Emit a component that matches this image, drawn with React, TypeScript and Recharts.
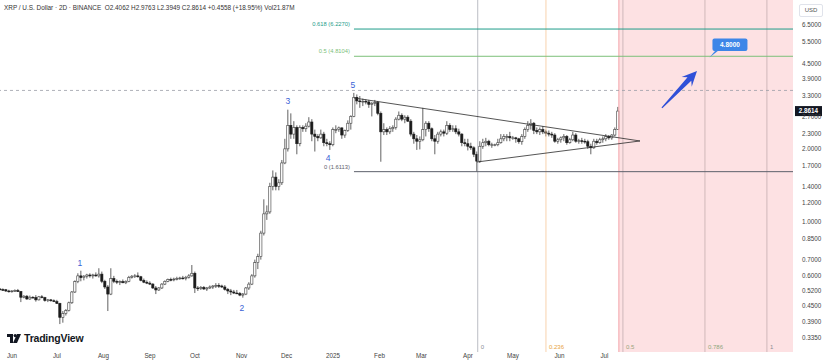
import { ComposedChart, Bar, XAxis, YAxis, ReferenceLine, ReferenceArea, ReferenceDot } from 'recharts';

// day 0 = 1 Jun 2024, one candle every 2 days
const firstDay = -8;
const candleStep = 2;

// [open, high, low, close]
const candles: number[][] = [
    // late May / Jun 2024
    [0.530, 0.535, 0.522, 0.527], [0.527, 0.533, 0.520, 0.526], [0.526, 0.530, 0.515, 0.520], [0.520, 0.526, 0.512, 0.518],
    [0.518, 0.524, 0.512, 0.520], [0.520, 0.528, 0.515, 0.522], [0.522, 0.530, 0.515, 0.517], [0.517, 0.520, 0.468, 0.490],
    [0.490, 0.500, 0.485, 0.495], [0.495, 0.500, 0.478, 0.482], [0.482, 0.498, 0.478, 0.490], [0.490, 0.495, 0.485, 0.488],
    [0.488, 0.500, 0.470, 0.478], [0.478, 0.496, 0.475, 0.492], [0.492, 0.500, 0.485, 0.488], [0.488, 0.492, 0.470, 0.475],
    [0.475, 0.482, 0.468, 0.478], [0.478, 0.482, 0.470, 0.474], [0.474, 0.480, 0.468, 0.470],
    // Jul
    [0.470, 0.478, 0.460, 0.462], [0.462, 0.465, 0.380, 0.405], [0.405, 0.430, 0.385, 0.420], [0.420, 0.438, 0.412, 0.432],
    [0.432, 0.470, 0.428, 0.465], [0.465, 0.520, 0.460, 0.515], [0.515, 0.575, 0.510, 0.568], [0.568, 0.615, 0.560, 0.600],
    [0.600, 0.630, 0.570, 0.590], [0.590, 0.605, 0.575, 0.598], [0.598, 0.612, 0.585, 0.605], [0.605, 0.615, 0.590, 0.600],
    [0.600, 0.612, 0.585, 0.605], [0.605, 0.620, 0.595, 0.600], [0.600, 0.645, 0.590, 0.610], [0.610, 0.625, 0.560, 0.570],
    // Aug
    [0.570, 0.578, 0.530, 0.540], [0.540, 0.550, 0.430, 0.505], [0.505, 0.645, 0.500, 0.585], [0.585, 0.600, 0.560, 0.570],
    [0.570, 0.580, 0.555, 0.565], [0.565, 0.575, 0.550, 0.568], [0.568, 0.580, 0.560, 0.562], [0.562, 0.575, 0.555, 0.570],
    [0.570, 0.600, 0.565, 0.592], [0.592, 0.605, 0.585, 0.598], [0.598, 0.610, 0.588, 0.600], [0.600, 0.620, 0.590, 0.595],
    [0.595, 0.600, 0.570, 0.575], [0.575, 0.585, 0.560, 0.565], [0.565, 0.575, 0.555, 0.560],
    // Sep
    [0.560, 0.570, 0.550, 0.555], [0.555, 0.560, 0.530, 0.535], [0.535, 0.545, 0.505, 0.525], [0.525, 0.540, 0.520, 0.535],
    [0.535, 0.560, 0.530, 0.555], [0.555, 0.575, 0.550, 0.570], [0.570, 0.585, 0.565, 0.580], [0.580, 0.590, 0.570, 0.578],
    [0.578, 0.590, 0.570, 0.582], [0.582, 0.595, 0.575, 0.585], [0.585, 0.595, 0.578, 0.588], [0.588, 0.600, 0.580, 0.585],
    [0.585, 0.600, 0.575, 0.592], [0.592, 0.610, 0.585, 0.600], [0.600, 0.665, 0.595, 0.615],
    // Oct
    [0.615, 0.625, 0.510, 0.535], [0.535, 0.545, 0.520, 0.532], [0.532, 0.545, 0.525, 0.538], [0.538, 0.545, 0.525, 0.530],
    [0.530, 0.540, 0.520, 0.535], [0.535, 0.548, 0.530, 0.540], [0.540, 0.550, 0.530, 0.545], [0.545, 0.560, 0.535, 0.548],
    [0.548, 0.560, 0.535, 0.545], [0.545, 0.552, 0.535, 0.540], [0.540, 0.550, 0.522, 0.528], [0.528, 0.535, 0.505, 0.520],
    [0.520, 0.530, 0.500, 0.515], [0.515, 0.525, 0.505, 0.510], [0.510, 0.525, 0.505, 0.508], [0.508, 0.515, 0.495, 0.500],
    // Nov
    [0.500, 0.510, 0.488, 0.505], [0.505, 0.540, 0.500, 0.535], [0.535, 0.565, 0.525, 0.555], [0.555, 0.610, 0.550, 0.600],
    [0.600, 0.700, 0.590, 0.680], [0.680, 0.740, 0.640, 0.720], [0.720, 0.920, 0.700, 0.900], [0.900, 1.240, 0.880, 1.080],
    [1.080, 1.170, 1.020, 1.100], [1.100, 1.450, 1.080, 1.400], [1.400, 1.630, 1.350, 1.530], [1.530, 1.600, 1.350, 1.400],
    [1.400, 1.500, 1.350, 1.450], [1.450, 1.800, 1.420, 1.750], [1.750, 2.200, 1.730, 2.000],
    // Dec
    [2.000, 2.900, 1.950, 2.500], [2.500, 2.800, 2.200, 2.300], [2.300, 2.600, 2.200, 2.450], [2.450, 2.500, 1.900, 2.100],
    [2.100, 2.500, 2.050, 2.450], [2.450, 2.500, 2.350, 2.420], [2.420, 2.550, 2.350, 2.480], [2.480, 2.700, 2.450, 2.580],
    [2.580, 2.650, 2.150, 2.300], [2.300, 2.400, 1.950, 2.250], [2.250, 2.300, 2.150, 2.220], [2.220, 2.400, 2.200, 2.300],
    [2.300, 2.350, 2.050, 2.120], [2.120, 2.200, 2.050, 2.100], [2.100, 2.150, 1.980, 2.080],
    // Jan 2025
    [2.080, 2.450, 2.050, 2.400], [2.400, 2.500, 2.320, 2.400], [2.400, 2.470, 2.350, 2.440], [2.440, 2.450, 2.200, 2.280],
    [2.280, 2.400, 2.220, 2.380], [2.380, 2.620, 2.350, 2.550], [2.550, 2.750, 2.400, 2.720], [2.720, 3.400, 2.700, 3.260],
    [3.260, 3.350, 3.050, 3.150], [3.150, 3.300, 2.950, 3.130], [3.130, 3.220, 3.000, 3.140], [3.140, 3.200, 3.050, 3.120],
    [3.120, 3.180, 2.950, 3.050], [3.050, 3.120, 2.720, 3.080], [3.080, 3.180, 3.000, 3.100], [3.100, 3.150, 2.750, 2.800],
    // Feb
    [2.800, 2.850, 1.770, 2.350], [2.350, 2.550, 2.280, 2.400], [2.400, 2.450, 2.280, 2.350], [2.350, 2.480, 2.300, 2.420],
    [2.420, 2.500, 2.350, 2.450], [2.450, 2.700, 2.400, 2.650], [2.650, 2.850, 2.620, 2.750], [2.750, 2.800, 2.600, 2.650],
    [2.650, 2.750, 2.550, 2.700], [2.700, 2.750, 2.580, 2.600], [2.600, 2.650, 2.250, 2.300], [2.300, 2.350, 2.100, 2.200],
    [2.200, 2.280, 1.980, 2.150], [2.150, 2.250, 1.990, 2.180],
    // Mar
    [2.180, 2.950, 2.150, 2.400], [2.400, 2.600, 2.250, 2.550], [2.550, 2.600, 2.350, 2.420], [2.420, 2.450, 2.150, 2.200],
    [2.200, 2.280, 1.900, 2.150], [2.150, 2.350, 2.100, 2.300], [2.300, 2.400, 2.250, 2.350], [2.350, 2.400, 2.250, 2.320],
    [2.320, 2.600, 2.280, 2.500], [2.500, 2.550, 2.350, 2.400], [2.400, 2.500, 2.350, 2.420], [2.420, 2.500, 2.300, 2.350],
    [2.350, 2.420, 2.250, 2.300], [2.300, 2.320, 2.050, 2.120], [2.120, 2.200, 2.050, 2.100],
    // Apr
    [2.100, 2.200, 1.970, 2.050], [2.050, 2.120, 1.980, 2.020], [2.020, 2.050, 1.850, 1.900], [1.900, 1.950, 1.611, 1.780],
    [1.780, 2.150, 1.750, 2.050], [2.050, 2.200, 2.000, 2.120], [2.120, 2.220, 2.050, 2.150], [2.150, 2.180, 2.050, 2.080],
    [2.080, 2.120, 2.020, 2.080], [2.080, 2.100, 2.050, 2.080], [2.080, 2.200, 2.050, 2.120], [2.120, 2.300, 2.100, 2.200],
    [2.200, 2.300, 2.150, 2.250], [2.250, 2.300, 2.150, 2.250], [2.250, 2.350, 2.150, 2.220],
    // May
    [2.220, 2.260, 2.180, 2.220], [2.220, 2.240, 2.120, 2.200], [2.200, 2.220, 2.100, 2.140], [2.140, 2.300, 2.080, 2.250],
    [2.250, 2.450, 2.200, 2.400], [2.400, 2.600, 2.350, 2.500], [2.500, 2.650, 2.400, 2.550], [2.550, 2.580, 2.300, 2.380],
    [2.380, 2.450, 2.300, 2.350], [2.350, 2.450, 2.280, 2.400], [2.400, 2.480, 2.300, 2.350], [2.350, 2.400, 2.250, 2.320],
    [2.320, 2.380, 2.250, 2.300], [2.300, 2.350, 2.220, 2.280], [2.280, 2.320, 2.120, 2.150], [2.150, 2.220, 2.100, 2.180],
    // Jun
    [2.180, 2.250, 2.120, 2.220], [2.220, 2.300, 2.150, 2.250], [2.250, 2.280, 2.080, 2.120], [2.120, 2.220, 2.100, 2.180],
    [2.180, 2.350, 2.150, 2.280], [2.280, 2.320, 2.120, 2.150], [2.150, 2.200, 2.100, 2.160], [2.160, 2.220, 2.100, 2.150],
    [2.150, 2.200, 2.100, 2.140], [2.140, 2.180, 2.000, 2.050], [2.050, 2.100, 1.900, 2.020], [2.020, 2.200, 2.000, 2.150],
    [2.150, 2.200, 2.080, 2.120], [2.120, 2.220, 2.100, 2.180], [2.180, 2.250, 2.120, 2.200],
    // Jul
    [2.200, 2.300, 2.150, 2.250], [2.250, 2.280, 2.180, 2.220], [2.220, 2.300, 2.180, 2.280], [2.280, 2.450, 2.250, 2.4062],
    [2.4062, 2.9763, 2.3949, 2.8614],
];

const monthTicks = [0, 30, 61, 92, 122, 153, 183, 214, 245, 273, 304, 334, 365, 395];
const monthLabels = ['Jun', 'Jul', 'Aug', 'Sep', 'Oct', 'Nov', 'Dec', '2025', 'Feb', 'Mar', 'Apr', 'May', 'Jun', 'Jul'];
const priceTicks = [6.5, 5.5, 4.5, 3.9, 3.3, 2.7, 2.3, 2.0, 1.7, 1.4, 1.2, 1.0, 0.85, 0.7, 0.6, 0.52, 0.45, 0.39, 0.335];
const xDomain = [-8, 520.7];
const yDomain = [0.2916, 8.2];

// fib retracement drawn from the wave 5 top
const fibStartDay = 228;
const fibLevels = [
    { label: '0.618 (6.2270)', value: 6.227, color: '#1e9c8a' },
    { label: '0.5 (4.8104)', value: 4.8104, color: '#7cc07a' },
    { label: '0 (1.6113)', value: 1.6113, color: '#5d606b' },
];
const highLine = 3.48;

// fib time zones from the April low
const timeZones = [
    { label: '0', day: 310.5, line: '#a9acb5', text: '#8a8d96' },
    { label: '0.236', day: 356, line: '#f6c698', text: '#e8a23c' },
    { label: '0.5', day: 407.3, line: '#c4adb0', text: '#9aa37c' },
    { label: '0.786', day: 462, line: '#c4adb0', text: '#8ea67c' },
    { label: '1', day: 503.3, line: '#c4adb0', text: '#8a8d96' },
];
const projectionStart = 404.6;

const waves = [
    { label: '1', day: 45.3, value: 0.678 },
    { label: '2', day: 153.3, value: 0.443 },
    { label: '3', day: 184, value: 3.15 },
    { label: '4', day: 210.7, value: 1.83 },
    { label: '5', day: 227.3, value: 3.66 },
];

const triangleUpper = [{ x: 228, y: 3.24 }, { x: 418.7, y: 2.155 }];
const triangleLower = [{ x: 310, y: 1.766 }, { x: 418.7, y: 2.155 }];
const arrowLine = [{ x: 433.3, y: 2.95 }, { x: 456.7, y: 4.18 }];
const target = { day: 465, value: 4.8, label: '4.8000' };
const lastClose = 2.8614;

const chartData = candles.map((k, i) => ({
    day: firstDay + candleStep * i,
    range: [k[2], k[1]],
    ohlc: k,
}));

const Candle = (props: any) => {
    const { x, y, width, height, payload } = props;
    if (!payload) return null;
    const [o, h, l, c] = payload.ohlc;
    const top = Math.min(y, y + height);
    const span = Math.abs(height);
    const lh = Math.log(h);
    const ll = Math.log(l);
    const py = (v: number) => top + (span * (lh - Math.log(v))) / (lh - ll || 1);
    const cx = x + width / 2;
    const up = c >= o;
    const bTop = py(Math.max(o, c));
    const bBot = py(Math.min(o, c));
    return (
        <g>
            <line x1={cx} x2={cx} y1={top} y2={top + span} stroke="#3a3a3a" strokeWidth={0.8} />
            <rect
                x={cx - 1.1}
                y={bTop}
                width={2.2}
                height={Math.max(0.8, bBot - bTop)}
                fill={up ? '#ffffff' : '#1b1b1b'}
                stroke={up ? '#3a3a3a' : '#1b1b1b'}
                strokeWidth={0.6}
            />
        </g>
    );
};

const Arrow = (props: any) => {
    const { x1, y1, x2, y2 } = props;
    const dx = x2 - x1;
    const dy = y2 - y1;
    const len = Math.hypot(dx, dy) || 1;
    const ux = dx / len, uy = dy / len;
    const nx = -uy, ny = ux;
    const p = (a: number, b: number) => `${x2 - ux * a + nx * b},${y2 - uy * a + ny * b}`;
    const pts = [
        `${x1 + nx * 0.6},${y1 + ny * 0.6}`,
        p(11, 2.6),
        p(15, 7),
        `${x2},${y2}`,
        p(15, -7),
        p(11, -2.6),
        `${x1 - nx * 0.6},${y1 - ny * 0.6}`,
    ];
    return <polygon points={pts.join(' ')} fill="#3050d8" />;
};

export default function App() {
    return (
        <div
            style={{
                position: 'fixed',
                left: 0,
                top: 0,
                width: 825,
                height: 364,
                background: '#fff',
                fontFamily: '"Liberation Sans", Arial, sans-serif',
            }}
        >
            <ComposedChart width={825} height={364} data={chartData} margin={{ top: 0, right: 0, left: 0, bottom: 0 }}>
                <XAxis
                    dataKey="day"
                    type="number"
                    domain={xDomain}
                    allowDataOverflow
                    ticks={monthTicks}
                    interval={0}
                    tickFormatter={(d: number) => monthLabels[monthTicks.indexOf(d)]}
                    tick={{ fontSize: 6.3, fill: '#444' }}
                    axisLine={false}
                    tickLine={false}
                    tickSize={0}
                    tickMargin={2}
                    height={12}
                />
                <YAxis
                    orientation="right"
                    scale="log"
                    domain={yDomain}
                    allowDataOverflow
                    ticks={priceTicks}
                    interval={0}
                    tickFormatter={(v: number) => v.toFixed(4)}
                    tick={{ fontSize: 6.3, fill: '#444' }}
                    axisLine={false}
                    tickLine={false}
                    tickMargin={3}
                    width={32}
                />

                <ReferenceArea x1={projectionStart} x2={xDomain[1]} fill="#fde1e3" fillOpacity={1} stroke="none" ifOverflow="visible" />
                <ReferenceLine x={projectionStart} stroke="#f3a3aa" strokeWidth={1} />

                {timeZones.map((z) => (
                    <ReferenceLine
                        key={z.label}
                        x={z.day}
                        stroke={z.line}
                        strokeWidth={0.8}
                        label={{ value: z.label, position: 'insideBottomLeft', fill: z.text, fontSize: 6, offset: 3 }}
                    />
                ))}

                <ReferenceLine y={highLine} stroke="#9a9da6" strokeDasharray="3 3" strokeWidth={0.8} />

                {fibLevels.map((f) => (
                    <ReferenceLine
                        key={f.label}
                        segment={[{ x: fibStartDay, y: f.value }, { x: xDomain[1], y: f.value }]}
                        stroke={f.color}
                        strokeWidth={1}
                    />
                ))}
                {fibLevels.map((f) => (
                    <ReferenceDot
                        key={'t' + f.label}
                        x={fibStartDay}
                        y={f.value}
                        r={0}
                        shape={(p: any) => (
                            <text x={p.cx - 4} y={p.cy - 3} textAnchor="end" fontSize={5.8} fill={f.color}>
                                {f.label}
                            </text>
                        )}
                    />
                ))}

                <ReferenceLine segment={triangleUpper} stroke="#2a2a2a" strokeWidth={0.8} />
                <ReferenceLine segment={triangleLower} stroke="#2a2a2a" strokeWidth={0.8} />

                <Bar dataKey="range" barSize={3} shape={<Candle />} isAnimationActive={false} />

                {waves.map((w) => (
                    <ReferenceDot
                        key={'w' + w.label}
                        x={w.day}
                        y={w.value}
                        r={0}
                        shape={(p: any) => (
                            <text x={p.cx} y={p.cy + 3} textAnchor="middle" fontSize={8.5} fill="#3a62d6">
                                {w.label}
                            </text>
                        )}
                    />
                ))}

                <ReferenceLine segment={arrowLine} shape={<Arrow />} />

                <ReferenceDot
                    x={target.day}
                    y={target.value}
                    r={0}
                    shape={(p: any) => (
                        <g>
                            <path d={`M${p.cx},${p.cy + 1} L${p.cx + 6},${p.cy - 6} L${p.cx + 9},${p.cy - 6} Z`} fill="#3d86e8" />
                            <rect x={p.cx + 3} y={p.cy - 18} width={35} height={12.5} rx={2} fill="#3d86e8" />
                            <text x={p.cx + 20.5} y={p.cy - 9.5} textAnchor="middle" fontSize={6.5} fontWeight={700} fill="#fff">
                                {target.label}
                            </text>
                        </g>
                    )}
                />

                <ReferenceDot
                    x={xDomain[1]}
                    y={lastClose}
                    r={0}
                    ifOverflow="visible"
                    shape={(p: any) => (
                        <g>
                            <rect x={p.cx + 2} y={p.cy - 5} width={27} height={10} fill="#131722" />
                            <text x={p.cx + 15.5} y={p.cy + 2.3} textAnchor="middle" fontSize={6.3} fontWeight={700} fill="#fff">
                                {lastClose.toFixed(4)}
                            </text>
                        </g>
                    )}
                />
            </ComposedChart>

            <div style={{ position: 'absolute', left: 4, top: 4, fontSize: 6.4, color: '#333', whiteSpace: 'nowrap' }}>
                XRP / U.S. Dollar · 2D · BINANCE&nbsp;&nbsp;O2.4062 H2.9763 L2.3949 C2.8614 +0.4558 (+18.95%) Vol21.87M
            </div>
            <div
                style={{
                    position: 'absolute',
                    left: 799,
                    top: 4,
                    width: 22,
                    height: 11,
                    border: '1px solid #e0e3eb',
                    borderRadius: 2,
                    fontSize: 6,
                    color: '#555',
                    lineHeight: '11px',
                    textAlign: 'center',
                    background: '#fff',
                }}
            >
                USD
            </div>
            <div style={{ position: 'absolute', left: 7, top: 332, display: 'flex', alignItems: 'center', gap: 3 }}>
                <svg width={14} height={9} viewBox="0 0 14 9">
                    <path d="M0 0h6v9H3V3H0z" fill="#131722" />
                    <circle cx={8.2} cy={1.6} r={1.6} fill="#131722" />
                    <path d="M10 0h4l-4 9H6z" fill="#131722" />
                </svg>
                <span style={{ fontSize: 10.5, fontWeight: 700, color: '#131722', letterSpacing: -0.2 }}>TradingView</span>
            </div>
        </div>
    );
}
